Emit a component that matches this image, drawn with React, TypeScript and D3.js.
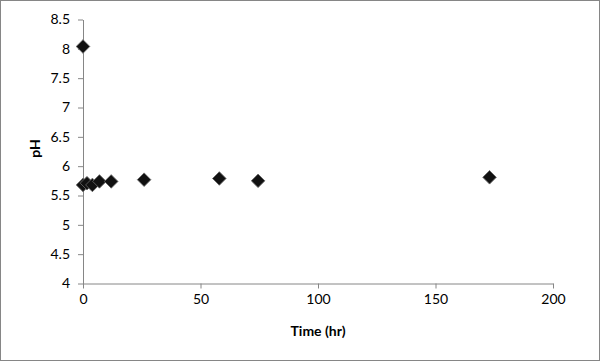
import React, { useRef, useEffect } from 'react';
import * as d3 from 'd3';

const times = [0, 0, 1.7, 4, 7, 12, 26, 58, 74.5, 173];
const phValues = [8.04, 5.68, 5.71, 5.68, 5.74, 5.74, 5.77, 5.79, 5.75, 5.81];
const xTicks = [0, 50, 100, 150, 200];
const yTicks = [4, 4.5, 5, 5.5, 6, 6.5, 7, 7.5, 8, 8.5];

const App: React.FC = () => {
  const svgRef = useRef<SVGSVGElement>(null);

  useEffect(() => {
    if (!svgRef.current) return;
    const svg = d3.select(svgRef.current);
    svg.selectAll('*').remove();

    const W = 600, H = 361;
    const font = 'Lato, "Open Sans", sans-serif';

    svg.append('rect')
      .attr('x', 0.5).attr('y', 0.5)
      .attr('width', W - 1).attr('height', H - 1)
      .attr('fill', '#fff').attr('stroke', '#868686');

    const x = d3.scaleLinear().domain([0, 200]).range([83, 553]);
    const y = d3.scaleLinear().domain([4, 8.5]).range([283.5, 19.5]);

    const axisColor = '#868686';

    // Y axis
    const ya = svg.append('g')
      .attr('transform', `translate(${x(0)},0)`)
      .call(d3.axisLeft(y).tickValues(yTicks).tickSize(5).tickSizeOuter(0).tickPadding(8).tickFormat(d3.format('')));
    ya.select('.domain').attr('stroke', axisColor);
    ya.selectAll('line').attr('stroke', axisColor);
    ya.selectAll('text').attr('fill', '#000').style('font-size', '14px').style('font-family', font);

    // X axis
    const xa = svg.append('g')
      .attr('transform', `translate(0,${y(4)})`)
      .call(d3.axisBottom(x).tickValues(xTicks).tickSize(5).tickSizeOuter(0).tickPadding(6));
    xa.select('.domain').attr('stroke', axisColor);
    xa.selectAll('line').attr('stroke', axisColor);
    xa.selectAll('text').attr('fill', '#000').style('font-size', '14px').style('font-family', font);

    // Axis titles
    svg.append('text')
      .attr('x', (x(0) + x(200)) / 2)
      .attr('y', 336)
      .attr('text-anchor', 'middle')
      .style('font-family', font)
      .style('font-size', '14px')
      .style('font-weight', 'bold')
      .text('Time (hr)');

    svg.append('text')
      .attr('transform', `translate(40,${y(6.3)}) rotate(-90)`)
      .attr('text-anchor', 'middle')
      .style('font-family', font)
      .style('font-size', '14px')
      .style('font-weight', 'bold')
      .text('pH');

    // Markers: square diamonds
    const data = times.map((t, i) => ({ t, v: phValues[i] }));
    const diamond = d3.symbol().type(d3.symbolSquare).size(92);
    svg.append('g').selectAll('path')
      .data(data).enter().append('path')
      .attr('transform', d => `translate(${x(d.t)},${y(d.v)}) rotate(45)`)
      .attr('d', diamond)
      .attr('fill', '#111')
      .attr('stroke', '#666')
      .attr('stroke-width', 0.8);
  }, []);

  return (
    <div style={{ position: 'absolute', left: 0, top: 0 }}>
      <svg ref={svgRef} width={600} height={361} style={{ display: 'block' }} />
    </div>
  );
};

export default App;
